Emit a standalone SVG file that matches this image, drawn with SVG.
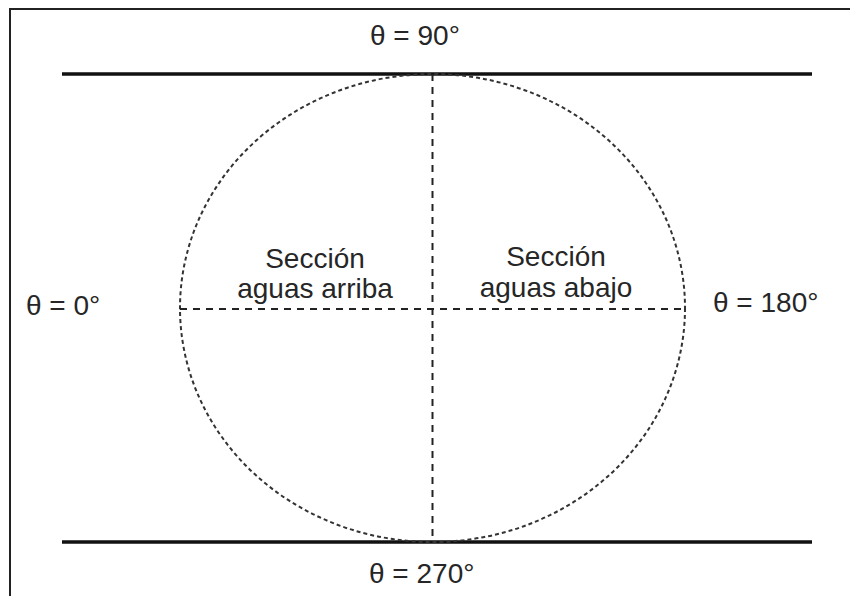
<svg xmlns="http://www.w3.org/2000/svg" width="850" height="596" viewBox="0 0 850 596">
<style>
.lbl{font-family:"Liberation Sans",Arial,sans-serif;font-size:28px;fill:#262626}
.solid{stroke:#111;stroke-width:3.5;fill:none}
.axis{stroke:#222;stroke-width:2;stroke-dasharray:7 6;fill:none}
.circ{stroke:#333;stroke-width:2;stroke-dasharray:4 3;fill:none}
.frame{stroke:#222;stroke-width:2;fill:none}
</style>
<rect width="850" height="596" fill="#fff"/>
<path class="frame" d="M10,596 V9 H850"/>
<g id="pipe-walls">
<line class="solid" x1="62" y1="74" x2="812" y2="74"/>
<line class="solid" x1="62" y1="542" x2="812" y2="542"/>
</g>
<g id="section-circle">
<ellipse class="circ" cx="432.5" cy="308" rx="252.5" ry="234"/>
</g>
<g id="connectors">
<line class="axis" x1="432.5" y1="74" x2="432.5" y2="542"/>
<line class="axis" x1="180" y1="309" x2="685" y2="309"/>
</g>
<g id="label-90"><text class="lbl" x="370" y="45">θ = 90°</text></g>
<g id="label-270"><text class="lbl" x="369" y="583">θ = 270°</text></g>
<g id="label-0"><text class="lbl" x="26" y="315">θ = 0°</text></g>
<g id="label-180"><text class="lbl" x="713" y="312">θ = 180°</text></g>
<g id="upstream"><text class="lbl" text-anchor="middle" x="315" y="268">Sección</text><text class="lbl" text-anchor="middle" x="315" y="298">aguas arriba</text></g>
<g id="downstream"><text class="lbl" text-anchor="middle" x="556" y="266">Sección</text><text class="lbl" text-anchor="middle" x="556" y="297">aguas abajo</text></g>
</svg>
